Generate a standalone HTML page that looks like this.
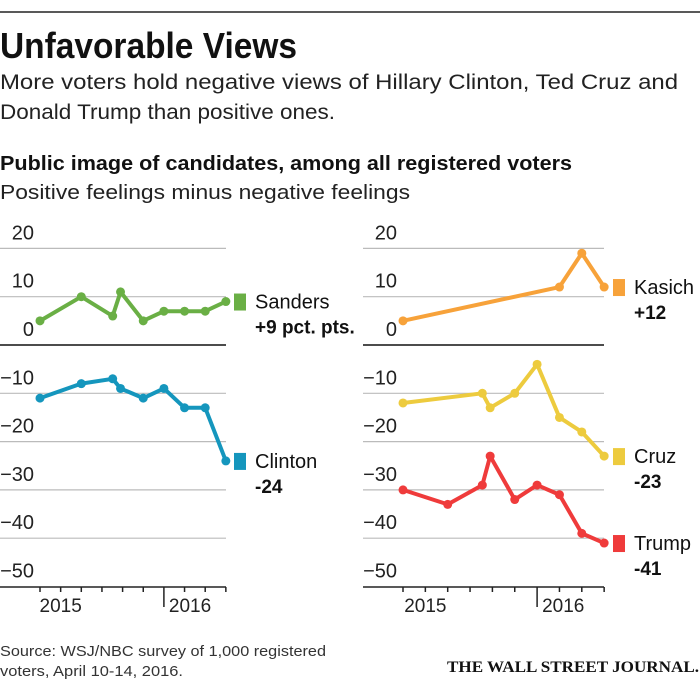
<!DOCTYPE html>
<html><head><meta charset="utf-8">
<style>
body{margin:0;background:#fff;}
svg{display:block;font-family:"Liberation Sans",sans-serif;}
</style></head>
<body>
<svg id="c" width="700" height="682" viewBox="0 0 700 682">
<line x1="0" y1="12" x2="700" y2="12" stroke="#222" stroke-width="1.5"/>
<text x="0" y="58" font-size="36" font-weight="bold" textLength="297" lengthAdjust="spacingAndGlyphs" fill="#111">Unfavorable Views</text>
<text x="0" y="89" font-size="21" textLength="678" lengthAdjust="spacingAndGlyphs" fill="#222">More voters hold negative views of Hillary Clinton, Ted Cruz and</text>
<text x="0" y="119" font-size="21" textLength="335" lengthAdjust="spacingAndGlyphs" fill="#222">Donald Trump than positive ones.</text>
<text x="0" y="170" font-size="20" font-weight="bold" textLength="572" lengthAdjust="spacingAndGlyphs" fill="#111">Public image of candidates, among all registered voters</text>
<text x="0" y="199" font-size="20" textLength="410" lengthAdjust="spacingAndGlyphs" fill="#222">Positive feelings minus negative feelings</text>
<text x="0" y="656" font-size="15" textLength="326" lengthAdjust="spacingAndGlyphs" fill="#333">Source: WSJ/NBC survey of 1,000 registered</text>
<text x="0" y="676" font-size="15" textLength="183" lengthAdjust="spacingAndGlyphs" fill="#333">voters, April 10-14, 2016.</text>
<text x="699" y="672" text-anchor="end" font-size="16" font-family="Liberation Serif,serif" font-weight="bold" textLength="252" lengthAdjust="spacingAndGlyphs" fill="#111">THE WALL STREET JOURNAL.</text>
<g id="left"></g><g id="right"></g>
</svg>
<script>
const yTicks=[20,10,0,-10,-20,-30,-40,-50];
const yearLabels=['2015','2016'];
const sandersX=[0,2,3.52,3.9,5,6,7,8,9];
const sandersY=[5,10,6,11,5,7,7,7,9];
const clintonX=[0,2,3.52,3.9,5,6,7,8,9];
const clintonY=[-11,-8,-7,-9,-11,-9,-13,-13,-24];
const kasichX=[0,7,8,9];
const kasichY=[5,12,19,12];
const cruzX=[0,3.55,3.9,5,6,7,8,9];
const cruzY=[-12,-10,-13,-10,-4,-15,-18,-23];
const trumpX=[0,2,3.55,3.9,5,6,7,8,9];
const trumpY=[-30,-33,-29,-23,-32,-29,-31,-39,-41];
const NS='http://www.w3.org/2000/svg';
function mk(p,t,a){const e=document.createElementNS(NS,t);for(const k in a)e.setAttribute(k,a[k]);p.appendChild(e);return e;}
function panel(g,opt){
  const y=v=>345-v*4.83;
  const x=i=>opt.x0+i*opt.dx;
  yTicks.forEach(v=>{
    if(v>-50){const l=mk(g,'line',{x1:opt.gx0,x2:opt.gx1,y1:y(v),y2:y(v),stroke:v===0?'#111':'#bbb','stroke-width':v===0?1.6:1.2});
    
    }
    const t=mk(g,'text',{x:opt.lx,y:y(v)-9,'text-anchor':'end','font-size':20,fill:'#222'});
    t.textContent=(v<0?'\u2212':'')+Math.abs(v);
    
    
  });
  const ax=mk(g,'line',{x1:opt.gx0,x2:opt.gx1,y1:587,y2:587,stroke:'#222','stroke-width':1.5});
  
  
  for(let i=0;i<10;i++){const tk=mk(g,'line',{x1:x(i),x2:x(i),y1:587,y2:i===6?607:592,stroke:'#222','stroke-width':1.5});
    
    }
  yearLabels.forEach((s,k)=>{const t=mk(g,'text',{x:k===0?x(1):x(6)+5,y:612,'text-anchor':k===0?'middle':'start','font-size':19,fill:'#222'});
    t.textContent=s;
    
    });
  opt.series.forEach(s=>{
    const pl=mk(g,'polyline',{points:s.xs.map((v,i)=>x(v)+','+y(s.ys[i])).join(' '),fill:'none',stroke:s.c,'stroke-width':4,'stroke-linejoin':'round'});
    
    
    s.xs.forEach((v,i)=>{const c=mk(g,'circle',{cx:x(v),cy:y(s.ys[i]),r:4.5,fill:s.c});
      
      });
    const ly=y(s.ys[s.ys.length-1]);
    const b=mk(g,'rect',{x:opt.bx,y:ly-8,width:12,height:17,fill:s.c});
    
    
    const t1=mk(g,'text',{x:opt.bx+21,y:ly+7,'font-size':20,fill:'#111'});t1.textContent=s.label;
    
    
    const t2=mk(g,'text',{x:opt.bx+21,y:ly+32,'font-size':19,'font-weight':'bold',fill:'#111'});t2.textContent=s.val;
    
    
  });
}
panel(document.getElementById('left'),{x0:40,dx:20.65,gx0:0,gx1:226,lx:34,bx:234,series:[
 {n:'sanders',xs:sandersX,ys:sandersY,c:'#6aaf45',label:'Sanders',val:'+9 pct. pts.'},
 {n:'clinton',xs:clintonX,ys:clintonY,c:'#1596bd',label:'Clinton',val:'-24'}]});
panel(document.getElementById('right'),{x0:403,dx:22.35,gx0:363,gx1:604,lx:397,bx:613,series:[
 {n:'kasich',xs:kasichX,ys:kasichY,c:'#f7a23a',label:'Kasich',val:'+12'},
 {n:'cruz',xs:cruzX,ys:cruzY,c:'#edcb3e',label:'Cruz',val:'-23'},
 {n:'trump',xs:trumpX,ys:trumpY,c:'#ef3b3b',label:'Trump',val:'-41'}]});
</script>
</body></html>
